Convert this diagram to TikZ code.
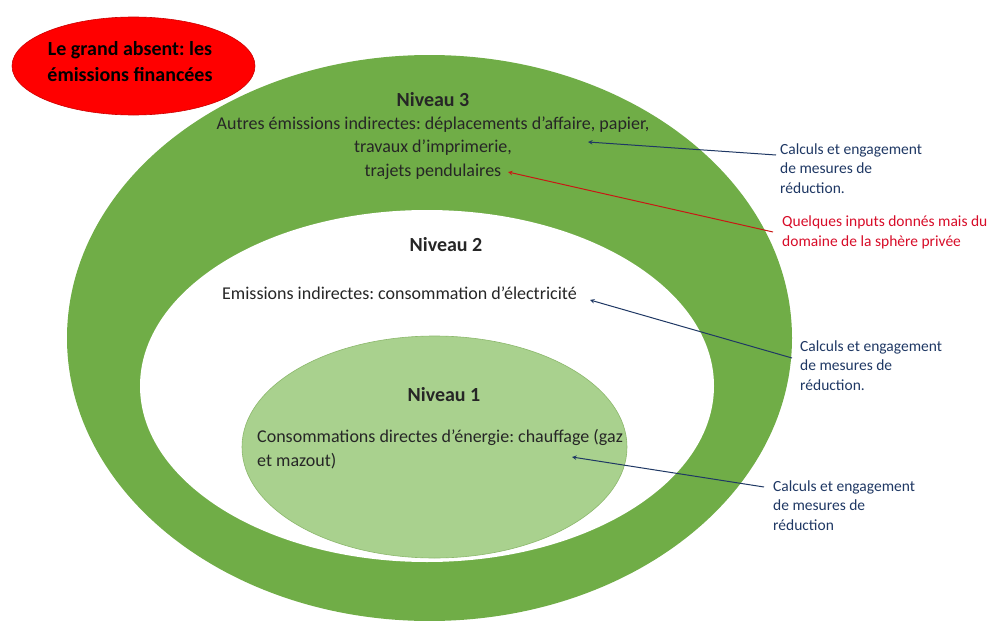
\documentclass[tikz,border=0pt]{standalone}
\usepackage{fontspec}
\setmainfont{Carlito}
\frenchspacing
\usetikzlibrary{shapes.geometric}
\definecolor{vertfonce}{RGB}{112,173,71}
\definecolor{vertclair}{RGB}{169,209,142}
\definecolor{bordclair}{RGB}{140,184,108}
\definecolor{marine}{RGB}{31,56,100}
\definecolor{rougetexte}{RGB}{215,12,40}
\definecolor{rougefleche}{RGB}{200,24,20}

\begin{document}
\begin{tikzpicture}[x=1pt, y=-1pt, >=stealth,
    zone/.style={ellipse, inner sep=0pt},
    titre/.style={font=\fontsize{20}{24}\selectfont\bfseries, text=black!85, inner sep=0pt, anchor=base},
    texte/.style={font=\fontsize{18}{23.5}\selectfont, text=black!85, inner sep=0pt},
    remarque/.style={font=\fontsize{15.5}{19.5}\selectfont, align=left, inner sep=0pt, anchor=base west},
    fleche/.style={->, line width=1pt}]
    \useasboundingbox (0,0) rectangle (989,621);
    % les trois niveaux
    \node (niv3) [zone, fill=vertfonce, minimum width=725pt, minimum height=566pt] at (429.5,338) {};
    \node (niv2) [zone, fill=white, minimum width=574pt, minimum height=352pt] at (427,386) {};
    \node (niv1) [zone, fill=vertclair, draw=bordclair, line width=0.6pt, minimum width=385pt, minimum height=222pt] at (434.5,447) {};
    \node (absent) [zone, fill=red, draw=red!80!black, line width=0.6pt, minimum width=243pt, minimum height=98pt] at (133.5,66) {};
    \node (absenttxt) [font=\fontsize{20}{25}\selectfont\bfseries, align=center, inner sep=0pt, anchor=base] at (130,81) {Le grand absent: les\\ émissions financées};
    % textes des niveaux
    \node (titre3) [titre] at (433,106) {Niveau 3};
    \node (txt3) [texte, align=center, anchor=base] at (433,176) {Autres émissions indirectes: déplacements d’affaire, papier,\\ travaux d’imprimerie,\\ trajets pendulaires};
    \node (titre2) [titre] at (446,251) {Niveau 2};
    \node (txt2) [texte, anchor=base west] at (222,299) {Emissions indirectes: consommation d’électricité};
    \node (titre1) [titre] at (444,401) {Niveau 1};
    \node (txt1) [texte, align=left, anchor=base west] at (257,466) {Consommations directes d’énergie: chauffage (gaz\\ et mazout)};
    % remarques a droite
    \node (rem3) [remarque, text=marine] at (780,193) {Calculs et engagement\\ de mesures de\\ réduction.};
    \node (prive) [remarque, text=rougetexte] at (782,246) {Quelques inputs donnés mais du\\ domaine de la sphère privée};
    \node (rem2) [remarque, text=marine] at (800,390) {Calculs et engagement\\ de mesures de\\ réduction.};
    \node (rem1) [remarque, text=marine] at (773,530) {Calculs et engagement\\ de mesures de\\ réduction};
    % pointes des fleches
    \coordinate (pointe3) at (588,142);
    \coordinate (pointeprive) at (508,172);
    \coordinate (pointe2) at (590,300);
    \coordinate (pointe1) at (572,457);
    \draw [fleche, marine] ([shift={(-4,-38)}]rem3.base west) -- (pointe3);
    \draw [fleche, rougefleche] ([shift={(-9,-14)}]prive.base west) -- (pointeprive);
    \draw [fleche, marine] ([shift={(-8,-32)}]rem2.base west) -- (pointe2);
    \draw [fleche, marine] ([shift={(-9,-43)}]rem1.base west) -- (pointe1);
\end{tikzpicture}
\end{document}
